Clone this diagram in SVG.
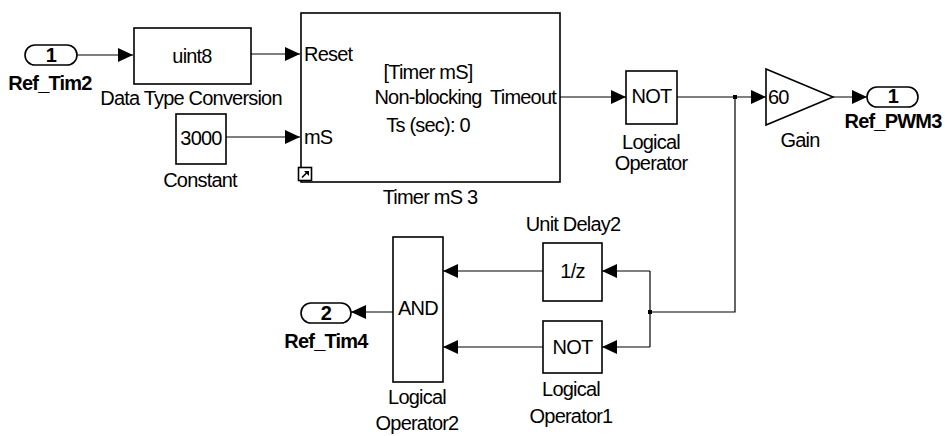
<svg xmlns="http://www.w3.org/2000/svg" width="945" height="436" viewBox="0 0 945 436">
<defs>
<style>
.blk{fill:#fff;stroke:#000;stroke-width:1.6}
.port{fill:#fff;stroke:#000;stroke-width:1.6}
.t{font-family:"Liberation Sans",Arial,sans-serif;font-size:20px;letter-spacing:-0.8px;fill:#000}
.c{text-anchor:middle}
.b{font-weight:bold}
.w{fill:none;stroke:#000;stroke-width:1.2}
</style>
<marker id="ah" markerUnits="userSpaceOnUse" markerWidth="15" markerHeight="14" refX="15" refY="7" orient="auto">
<path d="M0,0 L15,7 L0,14 z" fill="#000"/>
</marker>
</defs>
<rect width="945" height="436" fill="#fff"/>

<g id="connectors">
<line class="w" x1="77" y1="55" x2="133" y2="55" marker-end="url(#ah)"/>
<line class="w" x1="251" y1="54" x2="300" y2="54" marker-end="url(#ah)"/>
<line class="w" x1="226" y1="137" x2="300" y2="137" marker-end="url(#ah)"/>
<line class="w" x1="560" y1="97" x2="626" y2="97" marker-end="url(#ah)"/>
<line class="w" x1="677" y1="97" x2="766" y2="97" marker-end="url(#ah)"/>
<line class="w" x1="833" y1="97" x2="867" y2="97" marker-end="url(#ah)"/>
<polyline class="w" points="735,97 735,312 650,312"/>
<polyline class="w" points="650,271 650,347"/>
<line class="w" x1="650" y1="271" x2="602" y2="271" marker-end="url(#ah)"/>
<line class="w" x1="650" y1="347" x2="602" y2="347" marker-end="url(#ah)"/>
<line class="w" x1="543" y1="271" x2="443" y2="271" marker-end="url(#ah)"/>
<line class="w" x1="543" y1="347" x2="443" y2="347" marker-end="url(#ah)"/>
<line class="w" x1="393" y1="312" x2="351" y2="312" marker-end="url(#ah)"/>
<rect x="733" y="95" width="4" height="4" fill="#000"/>
<rect x="648" y="310" width="4" height="4" fill="#000"/>
</g>

<g id="Ref_Tim2">
<rect class="port" x="25" y="45" width="52" height="20" rx="10"/>
<text class="t c b" x="51" y="62">1</text>
<text class="t c b" x="50" y="90">Ref_Tim2</text>
</g>

<g id="DataTypeConversion">
<rect class="blk" x="134" y="28" width="117" height="56"/>
<text class="t c" x="192" y="63">uint8</text>
<text class="t c" x="191" y="105">Data Type Conversion</text>
</g>

<g id="Constant">
<rect class="blk" x="176" y="114" width="50" height="50"/>
<text class="t c" x="201" y="145">3000</text>
<text class="t c" x="200" y="187">Constant</text>
</g>

<g id="TimerMS3">
<rect class="blk" x="301" y="13" width="259" height="169"/>
<text class="t" x="304" y="61">Reset</text>
<text class="t" x="304" y="144">mS</text>
<text class="t c" x="428" y="79">[Timer mS]</text>
<text class="t c" x="428" y="104">Non-blocking</text>
<text class="t" x="556" y="104" text-anchor="end">Timeout</text>
<text class="t c" x="428" y="132">Ts (sec): 0</text>
<rect x="298.5" y="167.5" width="13" height="13" fill="#fff" stroke="#000" stroke-width="1.6"/>
<path d="M302,177.5 L307,172.5" stroke="#000" stroke-width="1.6"/>
<path d="M304,171 L309,171 L309,176 z" fill="#000"/>
<text class="t c" x="430" y="204">Timer mS 3</text>
</g>

<g id="LogicalOperator">
<rect class="blk" x="626" y="71" width="51" height="53"/>
<text class="t c" x="651.5" y="103">NOT</text>
<text class="t c" x="651" y="149">Logical</text>
<text class="t c" x="651" y="170">Operator</text>
</g>

<g id="Gain">
<polygon class="blk" points="766,69 833,97 766,125"/>
<text class="t" x="768" y="104">60</text>
<text class="t c" x="800" y="147">Gain</text>
</g>

<g id="Ref_PWM3">
<rect class="port" x="867" y="87" width="51" height="20" rx="10"/>
<text class="t c b" x="893" y="103">1</text>
<text class="t c b" x="893" y="128">Ref_PWM3</text>
</g>

<g id="UnitDelay2">
<rect class="blk" x="543" y="243" width="59" height="58"/>
<text class="t c" x="572.5" y="278">1/z</text>
<text class="t c" x="573" y="231">Unit Delay2</text>
</g>

<g id="LogicalOperator1">
<rect class="blk" x="543" y="321" width="59" height="52"/>
<text class="t c" x="572.5" y="354">NOT</text>
<text class="t c" x="571" y="396">Logical</text>
<text class="t c" x="571" y="423">Operator1</text>
</g>

<g id="LogicalOperator2">
<rect class="blk" x="393" y="237" width="50" height="145"/>
<text class="t c" x="418" y="315">AND</text>
<text class="t c" x="417" y="404">Logical</text>
<text class="t c" x="417" y="430">Operator2</text>
</g>

<g id="Ref_Tim4">
<rect class="port" x="301" y="303" width="50" height="20" rx="10"/>
<text class="t c b" x="326" y="320">2</text>
<text class="t c b" x="326" y="348">Ref_Tim4</text>
</g>
</svg>
